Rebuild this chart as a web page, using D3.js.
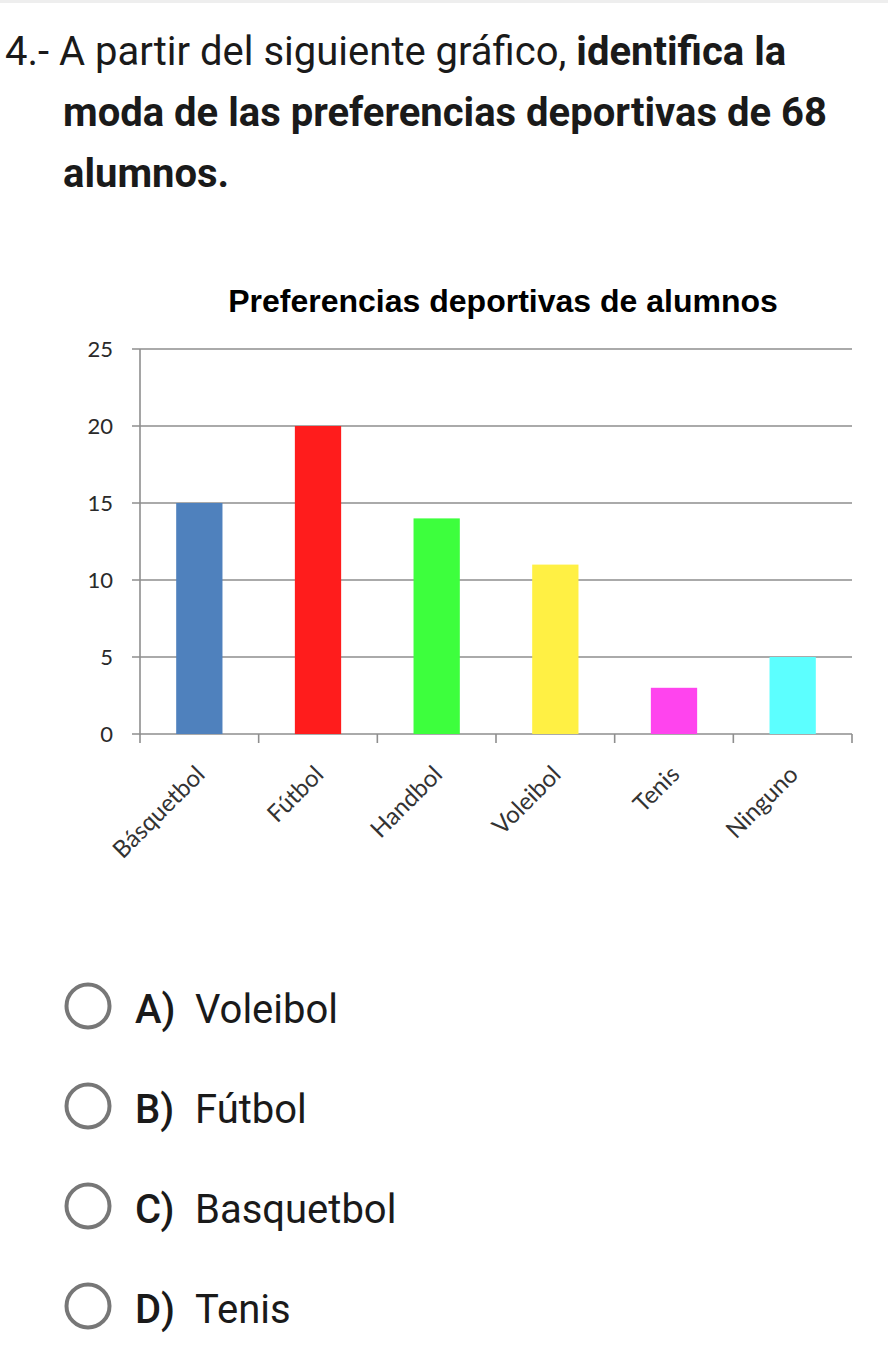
<!DOCTYPE html>
<html><head><meta charset="utf-8">
<script src="https://cdn.jsdelivr.net/npm/d3@7"></script>
<style>
html,body{margin:0;padding:0;background:#fff;}
svg{display:block;}
</style></head>
<body>
<svg id="c" width="888" height="1349"></svg>
<script>
const categories = ["Básquetbol","Fútbol","Handbol","Voleibol","Tenis","Ninguno"];
const values = [15, 20, 14, 11, 3, 5];
const barColors = ["#4f81bd","#ff1c1c","#3dff3d","#fff044","#ff44ee","#5cffff"];
const yTicks = [0, 5, 10, 15, 20, 25];
const chartTitle = "Preferencias deportivas de alumnos";
const options = [["A)","Voleibol"],["B)","Fútbol"],["C)","Basquetbol"],["D)","Tenis"]];

const svg = d3.select("#c");
svg.append("rect").attr("x",0).attr("y",0).attr("width",888).attr("height",3).attr("fill","#eeeeee");

// Question text
const q = svg.append("g").attr("font-family","Roboto").attr("font-size",40).attr("fill","#1a1a1a");
const t1 = q.append("text").attr("x",5).attr("y",65);
t1.append("tspan").text("4.- A partir del siguiente gráfico, ");
t1.append("tspan").attr("font-weight","bold").text("identifica la");
q.append("text").attr("x",63).attr("y",126).attr("font-weight","bold").text("moda de las preferencias deportivas de 68");
q.append("text").attr("x",63).attr("y",187).attr("font-weight","bold").text("alumnos.");

// Chart
const x = d3.scaleBand().domain(categories).range([140, 852]).paddingInner(0.61).paddingOuter(0.305);
const y = d3.scaleLinear().domain([0, 25]).range([734, 349]);
const g = svg.append("g");

g.append("text").attr("x",503).attr("y",312).attr("text-anchor","middle")
  .attr("font-family","Liberation Sans, Arial").attr("font-weight","bold").attr("font-size",32)
  .attr("fill","#000").text(chartTitle);

// gridlines
g.selectAll("line.grid").data(yTicks).join("line").attr("class","grid")
  .attr("x1",132).attr("x2",852).attr("y1",d=>y(d)).attr("y2",d=>y(d))
  .attr("stroke","#8e8e8e").attr("stroke-width",1.6);
// y axis line
g.append("line").attr("x1",140).attr("x2",140).attr("y1",y(25)).attr("y2",y(0)+0.8)
  .attr("stroke","#8e8e8e").attr("stroke-width",1.6);
// y labels
g.selectAll("text.yl").data(yTicks).join("text").attr("class","yl")
  .attr("x",113).attr("y",d=>y(d)).attr("dy","0.35em").attr("text-anchor","end")
  .attr("font-family","Lato").attr("font-size",22).attr("fill","#2a2a2a").text(d=>d);

// bars
g.selectAll("rect.bar").data(categories).join("rect").attr("class","bar")
  .attr("x",d=>x(d)).attr("width",x.bandwidth())
  .attr("y",(d,i)=>y(values[i])).attr("height",(d,i)=>y(0)-y(values[i]))
  .attr("fill",(d,i)=>barColors[i]);

// x ticks at band boundaries
const step = x.step();
const bounds = categories.map(c => x(c) - (step - x.bandwidth())/2).concat([x(categories[categories.length-1]) - (step - x.bandwidth())/2 + step]);
g.selectAll("line.xt").data(bounds).join("line").attr("class","xt")
  .attr("x1",d=>d).attr("x2",d=>d).attr("y1",y(0)).attr("y2",y(0)+9)
  .attr("stroke","#8e8e8e").attr("stroke-width",1.6);

// x labels
g.selectAll("text.xl").data(categories).join("text").attr("class","xl")
  .attr("text-anchor","end")
  .attr("transform",d=>`translate(${x(d)+x.bandwidth()/2+7},776) rotate(-45)`)
  .attr("font-family","Lato").attr("font-size",24).attr("fill","#333").text(d=>d);

// Options
const o = svg.append("g");
options.forEach((op,i)=>{
  const cy = 1006 + i*100;
  o.append("circle").attr("cx",88).attr("cy",cy).attr("r",21.5).attr("fill","none")
    .attr("stroke","#777").attr("stroke-width",4);
  o.append("text").attr("x",135).attr("y",cy+17).attr("font-family","Roboto").attr("font-weight",500)
    .attr("font-size",40).attr("fill","#1a1a1a").text(op[0]);
  o.append("text").attr("x",195).attr("y",cy+17).attr("font-family","Roboto")
    .attr("font-size",40).attr("fill","#1a1a1a").text(op[1]);
});
</script>
</body></html>
